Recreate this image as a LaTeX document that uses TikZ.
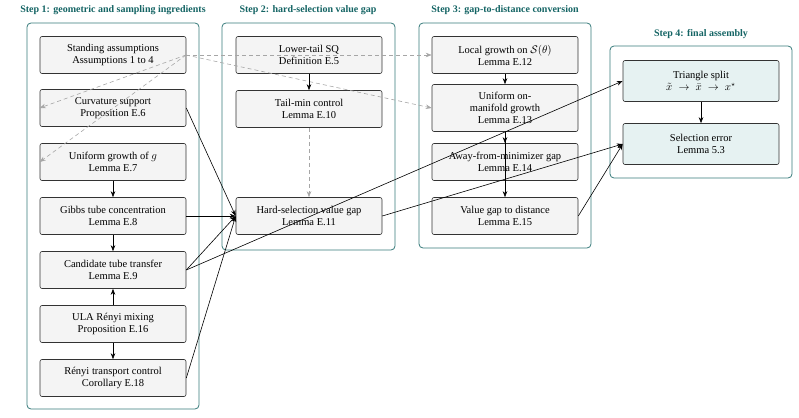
\documentclass[tikz,border=0pt]{standalone}
\usepackage{fontspec}
\setmainfont{Liberation Serif}
\usepackage{amsmath,amssymb}
\usetikzlibrary{arrows.meta}
\definecolor{teal1}{RGB}{20,100,100}
\definecolor{boxfill}{RGB}{244,244,244}
\definecolor{tfill}{RGB}{230,242,242}
\begin{document}
\begin{tikzpicture}[x=1pt,y=-1pt,
  box/.style={draw=black!80,fill=boxfill,rounded corners=2pt,minimum width=146pt,minimum height=37pt,inner sep=1pt,align=center,font=\fontsize{10.5}{12}\selectfont,line width=0.6pt},
  fbox/.style={box,fill=tfill,minimum width=156pt,minimum height=41pt},
  frame/.style={draw=teal1!85,rounded corners=4pt,line width=0.8pt},
  ttl/.style={text=teal1,font=\bfseries\fontsize{10}{12}\selectfont,anchor=center},
  arr/.style={-{Stealth[length=6pt,width=4.5pt]},line width=0.6pt},
  darr/.style={arr,gray!70,dashed,dash pattern=on 4pt off 3pt}]
\useasboundingbox (0,0) rectangle (799,417);
\draw[frame] (27,23) rectangle (199,409);
\draw[frame] (222,23) rectangle (395,250);
\draw[frame] (419,23) rectangle (591,248);
\draw[frame] (610,46) rectangle (792,178);
\node[ttl] (t1) at (113,10) {Step 1: geometric and sampling ingredients};
\node[ttl] (t2) at (308,10) {Step 2: hard-selection value gap};
\node[ttl] (t3) at (505,10) {Step 3: gap-to-distance conversion};
\node[ttl] (t4) at (701,34) {Step 4: final assembly};
\node[box] (sa) at (113,55) {Standing assumptions\\Assumptions 1 to 4};
\node[box] (cs) at (113,108) {Curvature support\\Proposition E.6};
\node[box] (ug) at (113,162) {Uniform growth of $g$\\Lemma E.7};
\node[box] (gt) at (113,216) {Gibbs tube concentration\\Lemma E.8};
\node[box] (ct) at (113,270) {Candidate tube transfer\\Lemma E.9};
\node[box] (ula) at (113,324) {ULA Rényi mixing\\Proposition E.16};
\node[box] (rt) at (113,378) {Rényi transport control\\Corollary E.18};
\node[box] (lt) at (309,55) {Lower-tail SQ\\Definition E.5};
\node[box] (tm) at (309,109) {Tail-min control\\Lemma E.10};
\node[box] (hs) at (309,216) {Hard-selection value gap\\Lemma E.11};
\node[box] (lg) at (505,55) {Local growth on $\mathcal{S}(\theta)$\\Lemma E.12};
\node[box,minimum height=47pt] (um) at (505,108) {Uniform on-\\manifold growth\\Lemma E.13};
\node[box] (af) at (505,162) {Away-from-minimizer gap\\Lemma E.14};
\node[box] (vg) at (505,216) {Value gap to distance\\Lemma E.15};
\node[fbox] (tri) at (701,81) {Triangle split\\$\tilde{x}\;\rightarrow\;\bar{x}\;\rightarrow\;x^{\star}$};
\node[fbox] (se) at (701,144) {Selection error\\Lemma 5.3};
\coordinate (sae) at (186,55);
\draw[darr] (sae) -- (cs.west);
\draw[darr] (sae) -- (ug.west);
\draw[darr] (sae) -- (lg.west);
\draw[darr] (sae) -- (um.west);
\draw[darr] (tm) -- (hs);
\draw[arr] (lt) -- (tm);
\draw[arr] (ug) -- (gt);
\draw[arr] (gt) -- (ct);
\draw[arr] (ula) -- (ct);
\draw[arr] (ula) -- (rt);
\draw[arr] (cs.east) -- (hs.west);
\draw[arr] (gt.east) -- (hs.west);
\draw[arr] (ct.east) -- (hs.west);
\draw[arr] (rt.east) -- (hs.west);
\draw[arr] (lg) -- (um);
\draw[arr] (um) -- (af);
\draw[arr] (um) -- (vg);
\draw[arr] (ct.east) -- (tri.west);
\draw[arr] (hs.east) -- (se.west);
\draw[arr] (vg.east) -- (se.west);
\draw[arr] (tri) -- (se);
\end{tikzpicture}
\end{document}
